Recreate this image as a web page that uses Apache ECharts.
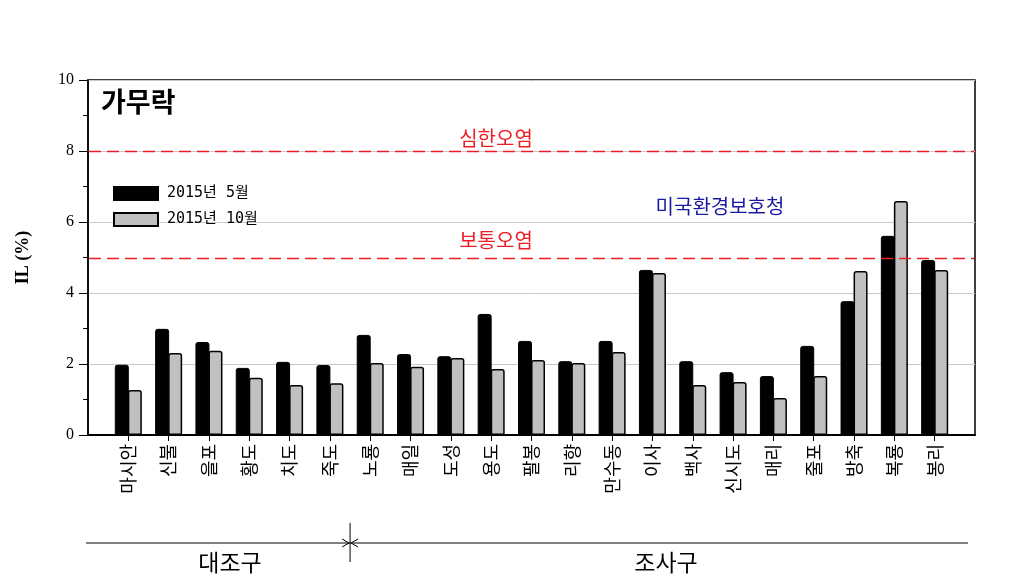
<!DOCTYPE html>
<html>
<head>
<meta charset="utf-8">
<script src="https://cdn.jsdelivr.net/npm/echarts@6/dist/echarts.min.js"></script>
<style>html,body{margin:0;padding:0;background:#fff}#c{width:1017px;height:580px}</style>
</head>
<body>
<div id="c"></div>
<script>
const categories = ['마시안','신불','을포','황도','치도','죽도','노룡','매일','도성','용도','팔봉','리향','만수동','이사','백사','신시도','매리','줄포','방축','복룡','봉리'];
const may2015 = [1.98,2.99,2.62,1.89,2.06,1.97,2.82,2.28,2.22,3.41,2.65,2.08,2.65,4.65,2.08,1.77,1.66,2.51,3.77,5.61,4.93];
const oct2015 = [1.27,2.31,2.37,1.61,1.41,1.46,2.03,1.92,2.17,1.86,2.11,2.03,2.34,4.56,1.41,1.49,1.04,1.66,4.62,6.59,4.65];
const yTicks = [0,2,4,6,8,10];
const thresholds = [8,5];
const seriesNames = ['2015년 5월','2015년 10월'];
const controlCount = 6;

const KR = '"Noto Sans CJK KR", "Noto Sans", sans-serif';
const RED = '#ee1c24';
const axisData = [''].concat(categories, ['']);
const pad = arr => [null].concat(arr, [null]);

const chart = echarts.init(document.getElementById('c'), null, {renderer:'canvas'});
const option = {
  animation:false,
  backgroundColor:'#fff',
  grid:{left:88,right:42,top:80,bottom:145,show:true,borderColor:'#000',borderWidth:1.5,backgroundColor:'transparent'},
  legend:{
    orient:'vertical',left:108,top:181,itemWidth:44,itemHeight:13,itemGap:11,
    icon:'rect',
    textStyle:{fontFamily:'"DejaVu Sans Mono", "Noto Sans CJK KR", monospace',fontSize:15,color:'#000',padding:[0,0,0,4]},
    data:seriesNames
  },
  xAxis:{
    type:'category',data:axisData,boundaryGap:false,
    axisLine:{lineStyle:{color:'#000',width:2}},
    axisTick:{show:true,length:6,inside:false,lineStyle:{color:'#000',width:1},
      interval:(i)=> i>0 && i<axisData.length-1},
    axisLabel:{interval:0,rotate:90,margin:9,fontFamily:KR,fontSize:18,color:'#000'},
    splitLine:{show:false}
  },
  yAxis:{
    type:'value',min:0,max:10,interval:2,
    name:'IL (%)',nameLocation:'middle',nameGap:56,
    nameTextStyle:{fontFamily:'"Liberation Serif", serif',fontSize:18,fontWeight:'bold',color:'#000'},
    axisLine:{show:true,lineStyle:{color:'#000',width:1.5}},
    axisTick:{show:true,length:9,lineStyle:{color:'#000'}},
    minorTick:{show:true,splitNumber:2,length:5,lineStyle:{color:'#000'}},
    axisLabel:{fontFamily:'"Liberation Serif", serif',fontSize:16,color:'#000',margin:14,
      formatter:v=> yTicks.includes(v)? String(v):''},
    splitLine:{show:true,lineStyle:{color:'#c8c8c8',width:1}}
  },
  series:[
    {name:seriesNames[0],type:'bar',data:pad(may2015),barWidth:14,barGap:'-7%',
     itemStyle:{color:'#000',borderColor:'#000',borderWidth:1,borderRadius:[2,2,0,0]}
    },
    {name:seriesNames[1],type:'bar',data:pad(oct2015),barWidth:14,barGap:'-7%',
     itemStyle:{color:'#c0c0c0',borderColor:'#000',borderWidth:1.5,borderRadius:[2,2,0,0]}}
  ]
};
chart.setOption(option);

// annotations
const yOf = v => chart.convertToPixel({yAxisIndex:0}, v);
const xOf = i => chart.convertToPixel({xAxisIndex:0}, i);
const xSplit = (xOf(controlCount) + xOf(controlCount+1))/2;
const xL = xOf(0) - 2, xR = xOf(axisData.length-1) - 7;
const yLine = 543;
const g = [];
thresholds.forEach(v=>{
  const yy = Math.round(yOf(v)) + 0.5;
  g.push({type:'line',z:50,shape:{x1:xOf(0)+1,y1:yy,x2:xOf(axisData.length-1)-1,y2:yy},
    style:{stroke:RED,lineWidth:1.5,lineDash:[12,6]}});
});
g.push({type:'text',left:101,top:88,style:{text:'가무락',font:'bold 27px '+KR,fill:'#000'}});
g.push({type:'text',x:496,y:yOf(thresholds[0])-13,style:{text:'심한오염',font:'20px '+KR,fill:RED,align:'center',verticalAlign:'middle'}});
g.push({type:'text',x:496,y:yOf(thresholds[1])-17,style:{text:'보통오염',font:'20px '+KR,fill:RED,align:'center',verticalAlign:'middle'}});
g.push({type:'text',x:720,y:yOf(6)-16,style:{text:'미국환경보호청',font:'20px '+KR,fill:'#1a1aa0',align:'center',verticalAlign:'middle'}});
g.push({type:'line',shape:{x1:xL,y1:yLine,x2:xR,y2:yLine},style:{stroke:'#000',lineWidth:1}});
g.push({type:'line',shape:{x1:xSplit,y1:523,x2:xSplit,y2:562},style:{stroke:'#000',lineWidth:1}});
g.push({type:'polyline',shape:{points:[[xSplit-8,yLine-4],[xSplit-1,yLine],[xSplit-8,yLine+4]]},style:{stroke:'#000',lineWidth:1,fill:null}});
g.push({type:'polyline',shape:{points:[[xSplit+8,yLine-4],[xSplit+1,yLine],[xSplit+8,yLine+4]]},style:{stroke:'#000',lineWidth:1,fill:null}});
g.push({type:'text',x:230,y:562,style:{text:'대조구',font:'23px '+KR,fill:'#000',align:'center',verticalAlign:'middle'}});
g.push({type:'text',x:666,y:562,style:{text:'조사구',font:'23px '+KR,fill:'#000',align:'center',verticalAlign:'middle'}});
chart.setOption({graphic:g});
</script>
</body>
</html>
